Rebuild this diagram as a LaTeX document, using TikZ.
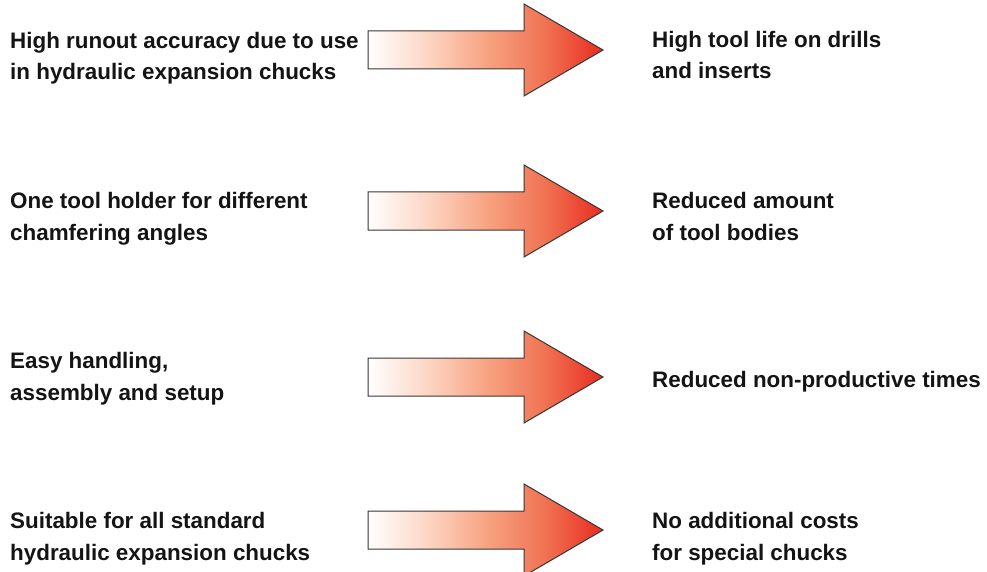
\documentclass[tikz,border=0pt]{standalone}
\usepackage{fontspec}
\setmainfont{Liberation Sans}
\usetikzlibrary{positioning}
\definecolor{gradA}{RGB}{252,214,197}
\definecolor{gradB}{RGB}{247,164,130}
\definecolor{gradC}{RGB}{240,115,84}
\definecolor{arrowred}{RGB}{232,44,32}
\definecolor{arrowline}{RGB}{55,55,55}
\pgfdeclarehorizontalshading{arrowgrad}{100bp}{color(0bp)=(white); color(25bp)=(white);
  color(37.5bp)=(gradA); color(50bp)=(gradB); color(62.5bp)=(gradC);
  color(75bp)=(arrowred); color(100bp)=(arrowred)}
\tikzset{
  claim/.style    = {anchor=base west, align=left, inner sep=0pt,
                     font=\fontsize{22.4}{31.5}\selectfont\bfseries, text=black!92},
  bigarrow/.style = {shading=arrowgrad, draw=arrowline, line width=1pt},
}

\begin{document}
\begin{tikzpicture}[x=1pt,y=-1pt]
  \useasboundingbox (0,0) rectangle (987,572);
  % block arrows
  \foreach \y in {50,211,377,530}
    \shadedraw[bigarrow] (368,\y-19) -- (524,\y-19) -- (524,\y-46) -- (603,\y)
      -- (524,\y+46) -- (524,\y+19) -- (368,\y+19) -- cycle;
  % features (placed at baseline of last line)
  \node[claim] (f1) at (10,80)  {High runout accuracy due to use\\in hydraulic expansion chucks};
  \node[claim] (f2) at (10,240) {One tool holder for different\\chamfering angles};
  \node[claim] (f3) at (10,400) {Easy handling,\\assembly and setup};
  \node[claim] (f4) at (10,560) {Suitable for all standard\\hydraulic expansion chucks};
  % benefits
  \node[claim] (b1) at (652,79)  {High tool life on drills\\and inserts};
  \node[claim] (b2) at (652,240) {Reduced amount\\of tool bodies};
  \node[claim] (b3) at (652,387) {Reduced non-productive times};
  \node[claim] (b4) at (652,560) {No additional costs\\for special chucks};
\end{tikzpicture}
\end{document}
